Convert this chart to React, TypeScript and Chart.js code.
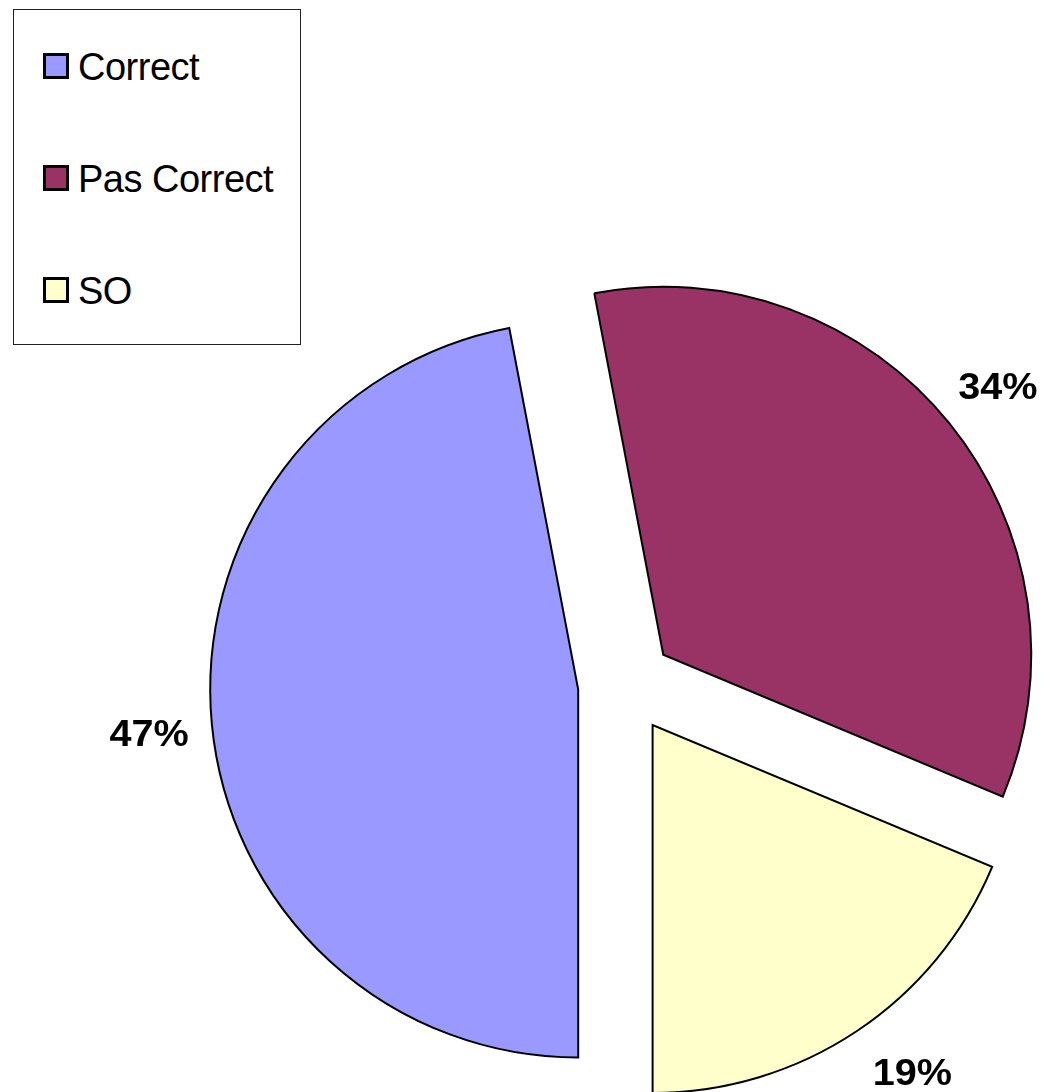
import React, { useEffect, useRef } from "react";
import { Chart, registerables } from "chart.js";

Chart.register(...registerables);

const categories = ["Correct", "Pas Correct", "SO"];
const values = [47.0, 34.3, 18.7];
const percentLabels = ["47%", "34%", "19%"];
const colors = ["#9999FF", "#993366", "#FFFFCC"];

const W = 1050;
const H = 1092;
const EXPLODE = 48;

// Draw each arc element (computed by Chart.js) shifted outward along its mid-angle,
// without the radius growth that the built-in `offset` option adds.
const explodePlugin = {
  id: "explode",
  beforeDatasetDraw(chart: any, args: any) {
    const ctx = chart.ctx;
    const meta = args.meta;
    meta.data.forEach((arc: any) => {
      const p = arc.getProps(["startAngle", "endAngle"], true);
      const mid = (p.startAngle + p.endAngle) / 2;
      ctx.save();
      ctx.translate(Math.cos(mid) * EXPLODE, Math.sin(mid) * EXPLODE);
      arc.draw(ctx, chart.chartArea);
      ctx.restore();
    });
    return false;
  },
};

const percentPlugin = {
  id: "percentLabels",
  afterDatasetsDraw(chart: any) {
    const ctx = chart.ctx;
    const meta = chart.getDatasetMeta(0);
    const halfH = 17;
    const dy = 6;
    ctx.save();
    ctx.font = "bold 36px 'Liberation Sans', Arial, sans-serif";
    ctx.fillStyle = "#000";
    ctx.textAlign = "center";
    ctx.textBaseline = "middle";
    meta.data.forEach((arc: any, i: number) => {
      const p = arc.getProps(["x", "y", "startAngle", "endAngle", "outerRadius"], true);
      let theta = (p.startAngle + p.endAngle) / 2;
      const r = p.outerRadius + EXPLODE + 63;
      // keep the label inside the chart area by sliding it along the circle
      const limit = chart.chartArea.bottom - halfH - dy;
      if (p.y + Math.sin(theta) * r > limit) {
        const a = Math.asin((limit - p.y) / r);
        theta = Math.cos(theta) >= 0 ? a : Math.PI - a;
      }
      const lx = p.x + Math.cos(theta) * r;
      const ly = p.y + Math.sin(theta) * r + dy;
      ctx.save();
      ctx.translate(lx, ly);
      ctx.scale(1.1, 1);
      ctx.fillText(percentLabels[i], 0, 0);
      ctx.restore();
    });
    ctx.restore();
  },
};

export default function App() {
  const ref = useRef<HTMLCanvasElement | null>(null);
  useEffect(() => {
    if (!ref.current) return;
    const chart = new Chart(ref.current, {
      type: "pie",
      data: {
        labels: categories,
        datasets: [
          {
            data: values,
            backgroundColor: colors,
            borderColor: "#000",
            borderWidth: 2,
            borderJoinStyle: "miter",
            offset: 0,
            hoverOffset: 0,
          } as any,
        ],
      },
      options: {
        animation: false,
        responsive: false,
        rotation: 180,
        radius: 368,
        layout: { padding: { left: 202, top: 278, right: 0, bottom: 0 } },
        plugins: {
          legend: { display: false },
          tooltip: { enabled: false },
        },
        events: [],
      } as any,
      plugins: [explodePlugin, percentPlugin],
    });
    return () => chart.destroy();
  }, []);

  const itemTops = [66, 178, 290];
  return (
    <div style={{ position: "absolute", left: 0, top: 0, width: W, height: H, background: "#fff" }}>
      <canvas ref={ref} width={W} height={H} style={{ position: "absolute", left: 0, top: 0, width: W, height: H }} />
      <div
        style={{
          position: "absolute",
          left: 13,
          top: 9,
          width: 286,
          height: 334,
          border: "1.5px solid #222",
          background: "#fff",
          fontFamily: "'Liberation Sans', Arial, sans-serif",
        }}
      >
        {categories.map((c, i) => (
          <div key={c} style={{ position: "absolute", left: 0, top: itemTops[i] - 9 - 25, height: 50 }}>
            <div
              style={{
                position: "absolute",
                left: 29,
                top: 11,
                width: 20,
                height: 20,
                border: "3px solid #000",
                background: colors[i],
              }}
            />
            <span style={{ position: "absolute", left: 64, top: 3, fontSize: 38, lineHeight: "44px", color: "#000", whiteSpace: "nowrap", letterSpacing: "-0.5px" }}>
              {c}
            </span>
          </div>
        ))}
      </div>
    </div>
  );
}
